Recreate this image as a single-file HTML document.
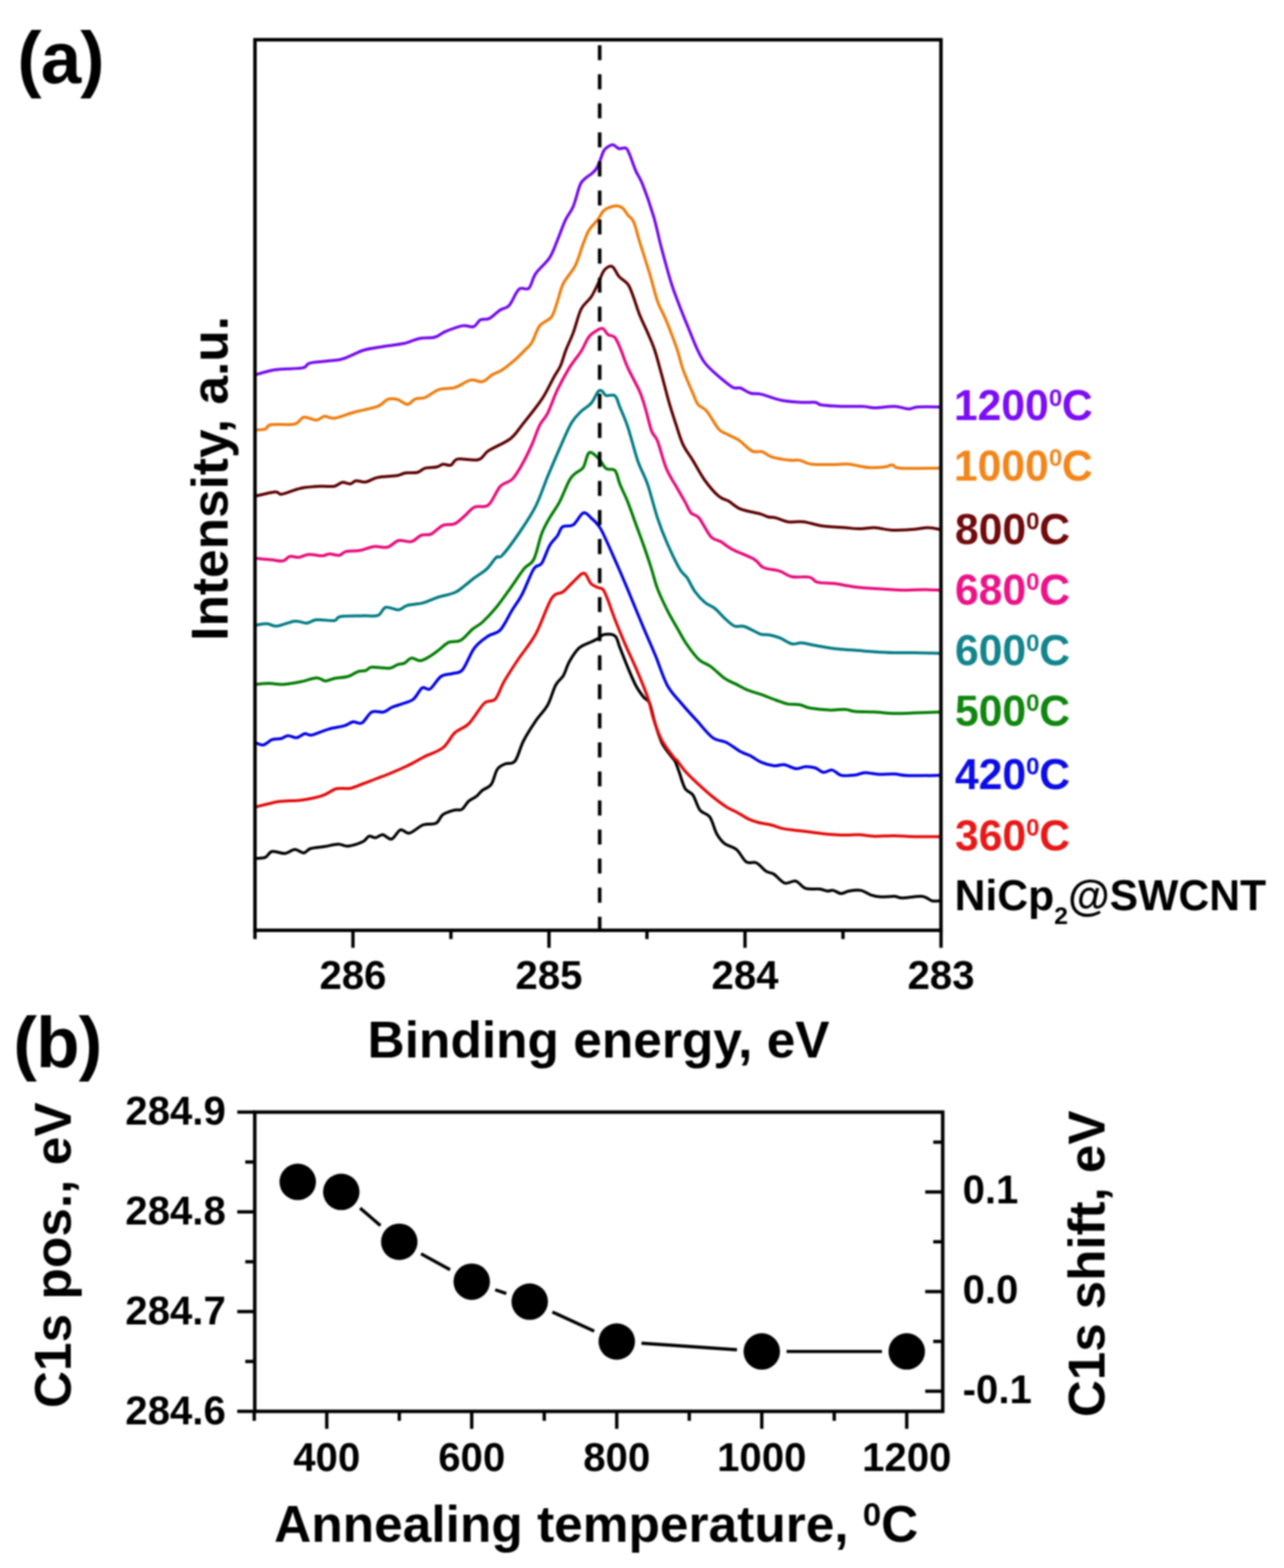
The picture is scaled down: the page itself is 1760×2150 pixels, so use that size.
<!DOCTYPE html>
<html lang="en"><head><meta charset="utf-8"><title>C1s XPS spectra of NiCp2@SWCNT</title>
<style>
html,body{margin:0;padding:0;background:#fff;}
body{width:1760px;height:2150px;overflow:hidden;}
svg{display:block;position:absolute;left:0;top:0;}
svg{filter:blur(0.9px);}
text{font-family:'Liberation Sans', sans-serif;font-weight:bold;fill:#000;}
.tk{font-size:55px;text-anchor:middle;}
.ax{font-size:70.5px;}
.pl{font-size:100px;letter-spacing:-1.3px;}
.lb{font-size:58.5px;}
.sup{font-size:33px;}
.ln{fill:none;stroke:#000;stroke-linecap:butt;}
.cv{fill:none;stroke-linejoin:round;stroke-linecap:butt;}
</style></head><body>
<svg width="1760" height="2150" viewBox="0 0 1760 2150">
<rect x="0" y="0" width="1760" height="2150" fill="#ffffff"/>
<g id="fig">
<g id="panel-a">
<text class="pl" x="23.8" y="113.7">(a)</text>
<clipPath id="clipa"><rect x="349.5" y="54.5" width="940.3" height="1221.1"/></clipPath>
<g clip-path="url(#clipa)">
<path class="cv" d="M350.0,1177.0 C352.2,1176.8 359.7,1177.3 363.5,1175.7 C367.3,1174.1 368.5,1168.4 373.0,1167.5 C377.5,1166.6 385.4,1170.7 390.6,1170.2 C395.8,1169.8 399.8,1164.9 404.1,1164.8 C408.4,1164.7 412.7,1169.6 416.3,1169.4 C419.9,1169.2 421.1,1164.9 425.8,1163.5 C430.5,1162.1 438.4,1161.8 444.7,1160.8 C451.0,1159.8 458.3,1157.6 463.7,1157.5 C469.1,1157.4 471.6,1160.8 477.2,1160.2 C482.8,1159.6 492.8,1156.2 497.5,1154.0 C502.2,1151.8 502.8,1147.6 505.7,1146.7 C508.6,1145.8 512.0,1149.0 515.1,1148.6 C518.2,1148.2 521.0,1144.2 524.6,1144.5 C528.2,1144.8 532.7,1151.6 536.8,1150.5 C540.9,1149.4 544.9,1139.1 549.0,1137.8 C553.1,1136.5 556.0,1143.5 561.2,1142.4 C566.4,1141.3 574.0,1133.3 580.1,1131.0 C586.2,1128.7 593.2,1131.1 597.7,1128.8 C602.2,1126.5 602.9,1119.9 607.2,1116.9 C611.5,1113.9 619.1,1111.9 623.4,1110.7 C627.7,1109.5 629.7,1111.9 632.9,1109.9 C636.1,1107.9 639.0,1101.5 642.4,1098.5 C645.8,1095.5 650.1,1094.2 653.2,1091.7 C656.4,1089.2 657.9,1086.3 661.3,1083.6 C664.7,1080.9 670.1,1080.1 673.5,1075.3 C676.9,1070.5 678.5,1059.6 681.6,1055.0 C684.8,1050.4 688.3,1049.4 692.4,1047.5 C696.5,1045.6 701.8,1048.8 706.0,1043.5 C710.2,1038.2 712.8,1025.2 717.5,1016.0 C722.2,1006.8 728.9,996.6 734.4,988.4 C739.9,980.2 746.2,974.9 750.7,966.8 C755.2,958.7 757.9,946.5 761.5,939.7 C765.1,932.9 769.1,931.6 772.3,926.2 C775.4,920.8 776.8,913.5 780.4,907.2 C784.0,900.9 789.0,892.8 794.0,888.3 C799.0,883.8 805.9,882.3 810.2,880.2 C814.5,878.1 817.0,877.2 820.0,875.5 C823.0,873.8 824.3,870.7 828.1,870.1 C831.9,869.5 839.4,869.0 843.0,872.0 C846.6,875.0 846.9,881.1 849.8,888.3 C852.7,895.5 857.0,906.8 860.6,915.4 C864.2,924.0 867.8,932.9 871.4,939.7 C875.0,946.5 879.1,951.9 882.3,956.0 C885.5,960.1 887.7,957.8 890.4,964.1 C893.1,970.4 895.6,984.8 898.5,993.9 C901.4,1003.0 903.9,1011.8 907.5,1019.0 C911.1,1026.2 917.2,1033.0 920.2,1037.2 C923.2,1041.4 923.8,1040.8 925.6,1044.4 C927.4,1048.0 928.8,1052.7 931.0,1058.8 C933.2,1064.9 936.0,1075.9 939.1,1081.2 C942.2,1086.5 946.5,1085.5 949.9,1090.4 C953.3,1095.3 955.6,1105.7 959.4,1110.7 C963.2,1115.7 969.1,1114.8 972.9,1120.2 C976.7,1125.6 979.0,1137.1 982.4,1143.2 C985.8,1149.3 988.8,1153.1 993.3,1156.7 C997.8,1160.3 1004.5,1160.6 1009.5,1164.8 C1014.5,1169.0 1018.5,1178.9 1023.0,1181.9 C1027.5,1184.9 1032.1,1180.9 1036.6,1183.0 C1041.1,1185.1 1046.0,1192.0 1050.1,1194.6 C1054.1,1197.2 1056.6,1196.0 1060.9,1198.7 C1065.2,1201.4 1070.8,1209.3 1075.8,1210.9 C1080.8,1212.5 1086.0,1206.9 1090.7,1208.1 C1095.4,1209.3 1098.8,1216.4 1104.2,1218.2 C1109.6,1220.0 1118.2,1218.4 1123.2,1219.0 C1128.2,1219.6 1130.8,1221.4 1134.0,1221.7 C1137.2,1222.0 1138.9,1220.3 1142.1,1220.9 C1145.3,1221.5 1149.4,1225.1 1153.0,1225.2 C1156.6,1225.3 1159.3,1222.4 1163.8,1221.7 C1168.3,1221.0 1175.0,1220.0 1180.0,1220.9 C1185.0,1221.8 1189.1,1225.6 1193.6,1227.1 C1198.1,1228.6 1201.7,1229.5 1207.1,1229.8 C1212.5,1230.1 1221.0,1228.8 1226.0,1229.0 C1231.0,1229.2 1230.6,1231.2 1236.9,1231.2 C1243.2,1231.2 1257.1,1228.3 1263.9,1229.0 C1270.7,1229.7 1273.2,1234.2 1277.5,1235.2 C1281.8,1236.2 1287.9,1235.2 1290.0,1235.2" stroke="#000000" stroke-width="4.0"/>
<path class="cv" d="M350.0,1106.6 C355.4,1105.3 372.1,1100.6 382.5,1099.0 C392.9,1097.4 402.4,1098.5 412.3,1097.2 C422.2,1095.9 433.9,1093.5 442.0,1090.9 C450.1,1088.3 454.7,1083.2 461.0,1081.5 C467.3,1079.8 473.7,1082.2 479.9,1081.0 C486.1,1079.8 491.7,1076.8 498.0,1074.5 C504.3,1072.2 512.3,1069.1 517.8,1067.0 C523.3,1064.9 524.2,1064.8 531.0,1062.0 C537.8,1059.2 550.1,1054.0 558.4,1050.0 C566.7,1046.0 572.9,1042.1 581.0,1038.0 C589.1,1033.9 600.1,1030.8 607.2,1025.2 C614.3,1019.7 617.5,1010.2 623.4,1004.7 C629.3,999.2 635.6,999.3 642.4,992.5 C649.2,985.7 657.9,969.7 664.0,964.1 C670.1,958.5 674.4,963.7 678.9,958.7 C683.4,953.7 685.9,943.3 691.1,934.3 C696.3,925.3 702.8,915.3 710.0,904.5 C717.2,893.7 726.7,883.3 734.4,869.3 C742.1,855.3 749.8,830.3 756.1,820.6 C762.4,810.9 766.9,815.4 772.3,811.1 C777.7,806.8 783.9,799.1 788.6,794.9 C793.3,790.7 797.1,785.1 800.7,786.0 C804.3,786.9 807.0,797.0 810.2,800.3 C813.4,803.6 817.2,804.4 820.0,805.7 C822.8,807.1 824.5,805.5 826.8,808.4 C829.0,811.3 830.6,815.8 833.5,823.3 C836.4,830.8 840.3,842.7 844.4,853.1 C848.5,863.5 853.4,875.2 857.9,885.6 C862.4,896.0 866.4,903.7 871.4,915.4 C876.4,927.1 883.6,944.3 887.7,956.0 C891.8,967.7 892.6,976.0 895.8,985.7 C898.9,995.4 902.1,1005.3 906.6,1014.0 C911.1,1022.7 919.4,1033.2 923.0,1038.0 C926.6,1042.8 925.5,1039.6 928.3,1043.0 C931.1,1046.4 934.6,1052.4 940.0,1058.3 C945.4,1064.2 954.6,1072.8 960.8,1078.5 C967.0,1084.2 971.1,1087.9 977.0,1092.6 C982.9,1097.3 990.6,1103.1 996.0,1106.6 C1001.4,1110.1 1004.5,1110.7 1009.5,1113.4 C1014.5,1116.1 1020.7,1120.5 1025.7,1122.9 C1030.7,1125.3 1033.9,1126.3 1039.3,1127.7 C1044.7,1129.1 1052.3,1130.0 1058.2,1131.5 C1064.1,1133.0 1067.3,1135.0 1074.5,1136.4 C1081.7,1137.8 1092.5,1138.6 1101.5,1139.7 C1110.5,1140.8 1119.1,1142.3 1128.6,1143.2 C1138.1,1144.1 1150.3,1144.9 1158.4,1145.1 C1166.5,1145.3 1170.5,1144.2 1177.3,1144.5 C1184.1,1144.8 1190.9,1146.5 1199.0,1146.7 C1207.1,1146.9 1217.0,1145.8 1226.0,1145.9 C1235.0,1146.0 1242.4,1147.0 1253.1,1147.2 C1263.8,1147.4 1283.8,1147.2 1290.0,1147.2" stroke="#e40808" stroke-width="4.0"/>
<path class="cv" d="M350.0,1018.2 C351.8,1018.8 357.0,1022.2 360.8,1021.5 C364.6,1020.8 368.9,1015.7 373.0,1014.2 C377.1,1012.8 381.6,1013.7 385.2,1012.8 C388.8,1011.9 391.1,1008.9 394.7,1008.7 C398.3,1008.5 403.0,1012.0 406.8,1011.5 C410.6,1011.0 414.3,1006.6 417.7,1006.0 C421.1,1005.4 421.8,1008.9 427.2,1007.9 C432.6,1006.9 442.8,1001.9 450.2,999.8 C457.6,997.7 466.2,996.9 471.8,995.2 C477.4,993.5 479.9,990.5 484.0,989.8 C488.1,989.1 491.9,993.5 496.2,991.2 C500.5,989.0 504.7,978.8 509.7,976.3 C514.7,973.8 521.5,977.3 526.0,976.3 C530.5,975.2 532.8,971.8 536.8,970.0 C540.8,968.2 545.3,967.3 550.3,965.4 C555.3,963.5 561.9,962.4 566.6,958.7 C571.3,955.0 574.9,945.6 578.7,943.2 C582.5,940.9 585.3,947.2 589.6,944.6 C593.9,942.0 599.3,931.0 604.5,927.5 C609.7,924.0 615.8,925.1 620.7,923.5 C625.7,921.9 629.2,924.0 634.2,918.1 C639.2,912.2 644.6,896.0 650.5,888.3 C656.4,880.6 663.5,876.1 669.4,872.0 C675.3,867.9 680.3,869.8 685.7,863.9 C691.1,858.0 696.9,844.9 701.9,836.8 C706.9,828.7 710.5,824.7 715.5,815.2 C720.5,805.7 727.2,787.1 731.7,780.0 C736.2,772.9 738.9,777.7 742.5,772.4 C746.1,767.1 749.8,754.3 753.4,748.0 C757.0,741.7 761.3,738.8 764.2,734.5 C767.1,730.2 767.4,724.8 771.0,722.3 C774.6,719.8 781.1,722.8 785.8,719.6 C790.5,716.4 795.3,704.9 799.4,703.3 C803.5,701.7 806.8,707.3 810.2,710.1 C813.6,712.9 817.0,716.1 820.0,720.2 C823.0,724.3 823.4,724.5 828.1,734.5 C832.8,744.5 842.5,766.5 848.4,780.0 C854.3,793.5 857.6,801.7 863.3,815.2 C868.9,828.7 876.4,847.2 882.3,861.2 C888.2,875.2 893.1,886.0 898.5,899.1 C903.9,912.2 908.8,928.9 914.7,939.7 C920.6,950.5 926.9,956.0 933.7,964.1 C940.5,972.2 948.2,980.5 955.4,988.4 C962.6,996.3 970.2,1006.5 977.0,1011.5 C983.8,1016.5 989.7,1015.0 996.0,1018.2 C1002.3,1021.4 1009.5,1027.6 1014.9,1030.6 C1020.3,1033.6 1023.7,1033.9 1028.4,1036.3 C1033.2,1038.7 1038.0,1042.8 1043.4,1045.1 C1048.8,1047.4 1055.6,1049.4 1060.9,1050.0 C1066.2,1050.6 1070.0,1047.8 1075.0,1048.5 C1080.0,1049.2 1085.8,1053.5 1090.7,1053.9 C1095.6,1054.4 1099.7,1051.4 1104.2,1051.2 C1108.7,1051.0 1113.7,1051.7 1117.8,1053.0 C1121.9,1054.3 1124.8,1058.5 1128.6,1059.0 C1132.4,1059.5 1136.7,1055.2 1140.8,1055.9 C1144.9,1056.6 1147.8,1061.9 1153.0,1063.1 C1158.2,1064.2 1166.5,1063.4 1171.9,1062.8 C1177.3,1062.2 1180.1,1059.7 1185.5,1059.5 C1190.9,1059.3 1197.7,1061.5 1204.4,1061.8 C1211.2,1062.1 1219.2,1061.0 1226.0,1061.3 C1232.8,1061.6 1234.3,1063.2 1245.0,1063.5 C1255.7,1063.8 1282.5,1063.2 1290.0,1063.1" stroke="#0000e6" stroke-width="4.0"/>
<path class="cv" d="M350.0,938.4 C353.2,938.2 362.7,937.0 369.0,937.0 C375.3,937.0 380.7,938.8 387.9,938.4 C395.1,938.0 404.6,936.3 412.3,934.8 C420.0,933.3 428.3,929.6 433.9,929.4 C439.5,929.2 442.0,933.7 446.1,933.8 C450.2,933.9 453.1,931.2 458.3,930.2 C463.5,929.2 471.8,929.1 477.2,927.5 C482.6,925.9 486.7,922.1 490.8,920.8 C494.9,919.4 498.5,920.4 501.6,919.4 C504.8,918.4 504.3,915.3 509.7,914.8 C515.1,914.3 528.2,916.8 534.1,916.2 C540.0,915.6 541.5,912.4 544.9,911.3 C548.3,910.2 551.2,910.9 554.4,909.4 C557.6,907.9 560.3,903.0 563.9,902.4 C567.5,901.8 572.0,906.2 576.0,905.9 C580.0,905.6 583.9,903.0 588.2,900.5 C592.5,898.0 597.3,894.3 601.8,891.0 C606.3,887.7 610.3,882.9 615.3,880.7 C620.2,878.5 626.1,881.0 631.5,878.0 C636.9,875.0 642.8,866.8 647.8,862.6 C652.8,858.5 655.9,858.1 661.3,853.1 C666.7,848.1 674.0,840.5 680.3,832.8 C686.6,825.1 692.9,815.9 699.2,807.1 C705.5,798.3 712.8,786.7 718.2,780.0 C723.6,773.3 727.7,775.0 731.7,767.0 C735.8,759.0 738.9,741.3 742.5,731.8 C746.1,722.3 749.3,717.3 753.4,710.1 C757.5,702.9 762.4,697.0 766.9,688.4 C771.4,679.8 776.8,665.2 780.4,658.7 C784.0,652.2 785.3,652.1 788.5,649.2 C791.7,646.3 796.2,645.8 799.4,641.1 C802.6,636.4 804.1,623.0 807.5,620.8 C810.9,618.6 816.1,624.4 820.0,628.0 C823.9,631.6 827.0,639.5 830.8,642.4 C834.6,645.2 839.8,641.5 843.0,645.1 C846.2,648.7 846.9,656.9 849.8,664.1 C852.7,671.3 857.0,679.4 860.6,688.4 C864.2,697.4 867.8,708.3 871.4,718.2 C875.0,728.1 878.7,737.7 882.3,748.0 C885.9,758.3 889.9,770.1 893.0,780.0 C896.1,789.9 897.6,797.6 901.2,807.1 C904.8,816.6 910.2,827.8 914.7,836.8 C919.2,845.8 923.8,853.3 928.3,861.2 C932.8,869.1 936.8,877.0 941.8,884.2 C946.8,891.4 952.7,899.5 958.1,904.5 C963.5,909.5 968.4,909.7 974.3,914.0 C980.2,918.3 987.4,926.1 993.3,930.2 C999.2,934.3 1004.1,935.7 1009.5,938.4 C1014.9,941.1 1019.8,944.1 1025.7,946.5 C1031.6,948.9 1038.4,950.5 1044.7,952.7 C1051.0,955.0 1057.7,957.9 1063.6,960.0 C1069.5,962.1 1074.5,964.4 1079.9,965.4 C1085.3,966.4 1091.1,965.3 1096.1,966.2 C1101.1,967.1 1102.9,969.6 1109.7,970.8 C1116.5,972.0 1128.6,973.3 1136.7,973.6 C1144.8,973.9 1152.5,972.4 1158.4,972.7 C1164.3,973.0 1165.1,974.9 1171.9,975.5 C1178.7,976.1 1190.0,975.8 1199.0,976.3 C1208.0,976.8 1217.0,978.0 1226.0,978.2 C1235.0,978.4 1242.4,977.9 1253.1,977.6 C1263.8,977.3 1283.8,976.5 1290.0,976.3" stroke="#007c00" stroke-width="4.0"/>
<path class="cv" d="M350.0,857.2 C352.7,856.9 361.2,855.1 366.2,855.3 C371.2,855.5 373.5,859.1 379.8,858.5 C386.1,857.9 397.3,852.4 404.1,851.7 C410.9,851.0 415.4,854.7 420.4,854.4 C425.4,854.1 427.6,850.4 433.9,849.8 C440.2,849.2 452.9,851.6 458.3,850.9 C463.7,850.2 460.1,846.6 466.4,845.5 C472.7,844.4 487.6,844.7 496.2,844.4 C504.8,844.1 512.4,845.8 517.8,843.9 C523.2,842.0 524.0,834.1 528.7,832.8 C533.5,831.5 541.3,836.8 546.3,836.3 C551.2,835.8 552.8,831.7 558.4,830.1 C564.0,828.5 573.3,828.4 580.1,826.6 C586.9,824.8 591.8,821.6 599.0,819.3 C606.2,816.9 617.1,815.2 623.4,812.5 C629.7,809.8 632.5,806.4 637.0,803.0 C641.5,799.6 645.4,796.0 650.5,792.2 C655.6,788.4 662.4,784.7 667.4,780.0 C672.4,775.3 676.8,767.3 680.3,764.2 C683.8,761.1 683.0,767.4 688.4,761.5 C693.8,755.6 705.1,740.3 712.8,729.0 C720.5,717.7 728.1,706.5 734.4,693.9 C740.7,681.3 745.3,666.4 750.7,653.3 C756.1,640.2 761.5,627.6 766.9,615.4 C772.3,603.2 778.1,588.8 783.1,580.2 C788.1,571.6 792.2,568.4 796.7,563.9 C801.2,559.4 806.3,557.6 810.2,553.1 C814.1,548.6 817.5,539.6 820.0,536.8 C822.5,534.0 823.6,535.4 825.4,536.3 C827.2,537.2 827.9,541.2 830.8,542.3 C833.7,543.4 839.8,540.1 843.0,542.8 C846.2,545.5 846.9,551.4 849.8,558.5 C852.7,565.6 856.5,573.4 860.6,585.6 C864.7,597.8 869.6,618.5 874.1,631.6 C878.6,644.7 883.2,651.0 887.7,664.1 C892.2,677.2 896.7,696.6 901.2,710.1 C905.7,723.6 909.6,733.6 914.7,745.3 C919.8,756.9 927.1,772.2 931.6,780.0 C936.1,787.8 938.3,787.0 941.8,792.2 C945.3,797.4 948.5,805.5 952.6,811.1 C956.7,816.7 961.7,822.2 966.2,826.0 C970.7,829.8 975.2,830.5 979.7,834.1 C984.2,837.7 988.8,843.6 993.3,847.7 C997.8,851.8 1002.3,856.6 1006.8,858.5 C1011.3,860.4 1014.4,857.2 1020.3,859.0 C1026.2,860.8 1036.1,867.3 1042.0,869.3 C1047.9,871.2 1051.0,869.8 1055.5,870.7 C1060.0,871.6 1064.0,872.7 1069.0,874.7 C1074.0,876.7 1080.3,881.8 1085.3,882.9 C1090.3,884.0 1093.4,881.1 1098.8,881.5 C1104.2,881.9 1110.1,883.6 1117.8,885.0 C1125.5,886.4 1135.9,888.5 1144.9,889.6 C1153.9,890.7 1162.9,890.8 1171.9,891.5 C1180.9,892.2 1190.0,893.1 1199.0,893.7 C1208.0,894.3 1217.0,894.8 1226.0,895.0 C1235.0,895.2 1242.4,894.9 1253.1,895.0 C1263.8,895.1 1283.8,895.8 1290.0,895.9" stroke="#007a82" stroke-width="4.0"/>
<path class="cv" d="M350.0,765.6 C353.6,765.9 365.4,766.9 371.7,767.5 C378.0,768.1 383.6,769.9 387.9,769.1 C392.2,768.3 393.8,763.7 397.4,762.9 C401.0,762.1 405.3,764.7 409.6,764.2 C413.9,763.8 417.7,760.6 423.1,760.2 C428.5,759.9 437.3,762.2 442.0,762.1 C446.7,762.0 447.7,759.5 451.5,759.4 C455.3,759.3 461.2,762.0 465.0,761.5 C468.8,761.0 469.8,757.2 474.5,756.1 C479.2,755.0 487.2,755.9 493.5,754.8 C499.8,753.7 506.1,750.2 512.4,749.4 C518.7,748.6 525.8,751.6 531.4,750.2 C537.0,748.8 540.9,742.5 546.3,741.2 C551.7,739.9 558.7,743.8 563.9,742.6 C569.1,741.4 572.9,735.6 577.4,733.9 C581.9,732.2 585.9,734.5 590.9,732.3 C595.9,730.0 601.8,722.8 607.2,720.4 C612.6,718.0 618.4,720.4 623.4,718.2 C628.4,716.0 632.5,711.2 637.0,707.4 C641.5,703.6 645.1,697.7 650.5,695.2 C655.9,692.7 663.5,697.2 669.4,692.5 C675.3,687.8 680.3,672.7 685.7,666.8 C691.1,660.9 696.9,662.3 701.9,657.3 C706.9,652.3 711.0,644.9 715.5,637.0 C720.0,629.1 725.0,618.9 729.0,609.9 C733.0,600.9 736.2,590.1 739.8,582.9 C743.4,575.7 746.6,574.7 750.7,566.6 C754.8,558.5 759.2,544.5 764.2,534.1 C769.2,523.7 775.0,513.2 780.4,504.4 C785.8,495.6 792.2,488.6 796.7,481.5 C801.2,474.4 803.6,466.4 807.5,461.5 C811.4,456.6 816.8,453.8 820.0,452.0 C823.2,450.2 824.5,449.6 826.8,450.7 C829.0,451.8 830.8,456.8 833.5,458.8 C836.2,460.8 840.1,459.4 843.0,462.9 C845.9,466.3 848.1,472.6 851.0,479.5 C853.9,486.4 856.3,494.8 860.6,504.4 C864.9,513.9 872.7,527.3 876.8,536.8 C880.9,546.3 882.3,552.2 885.0,561.2 C887.7,570.2 890.4,583.8 893.1,591.0 C895.8,598.2 897.8,595.9 901.2,604.5 C904.6,613.1 908.9,631.6 913.4,642.4 C917.9,653.2 924.0,661.8 928.3,669.5 C932.6,677.2 936.0,682.8 939.1,688.4 C942.2,694.0 944.0,699.7 947.2,703.3 C950.4,706.9 953.6,704.7 958.1,710.1 C962.6,715.5 969.3,730.4 974.3,735.8 C979.2,741.2 982.8,739.7 987.8,742.6 C992.8,745.5 996.4,749.4 1004.1,753.4 C1011.8,757.4 1026.9,762.8 1033.9,766.9 C1040.9,771.0 1040.2,775.3 1046.0,778.0 C1051.8,780.7 1062.5,781.1 1069.0,783.2 C1075.5,785.3 1078.5,789.4 1085.3,790.8 C1092.1,792.2 1103.8,790.1 1109.7,791.4 C1115.6,792.7 1114.6,796.9 1120.5,798.4 C1126.4,799.9 1136.8,799.3 1144.9,800.3 C1153.0,801.3 1160.2,803.3 1169.2,804.4 C1178.2,805.5 1187.3,806.3 1199.0,807.1 C1210.7,807.9 1228.3,809.0 1239.6,809.2 C1250.9,809.4 1258.3,808.4 1266.7,808.4 C1275.1,808.4 1286.1,809.1 1290.0,809.2" stroke="#e80878" stroke-width="4.0"/>
<path class="cv" d="M350.0,680.3 C354.5,679.3 370.9,674.8 377.0,674.4 C383.1,674.0 380.6,678.4 386.5,677.6 C392.4,676.8 403.5,671.3 412.3,669.5 C421.1,667.7 431.6,667.2 439.3,666.8 C447.0,666.3 453.3,667.7 458.3,666.8 C463.3,665.9 465.5,661.9 469.1,661.4 C472.7,660.9 476.7,663.9 479.9,663.5 C483.1,663.1 484.5,659.7 488.1,659.2 C491.7,658.8 496.7,661.6 501.6,660.8 C506.6,660.0 510.6,656.1 517.8,654.6 C525.0,653.1 538.6,652.9 544.9,651.9 C551.2,650.9 551.2,649.1 555.7,648.4 C560.2,647.7 567.5,648.9 572.0,647.8 C576.5,646.7 578.3,643.1 582.8,641.9 C587.3,640.6 594.9,641.2 599.0,640.3 C603.1,639.4 604.0,636.9 607.2,636.5 C610.4,636.1 614.6,639.0 618.0,637.8 C621.4,636.6 621.2,630.7 627.5,629.4 C633.8,628.1 648.9,632.1 655.9,630.2 C662.9,628.3 662.2,622.8 669.4,618.1 C676.6,613.4 691.5,607.7 699.2,601.8 C706.9,595.9 708.3,591.9 715.5,582.9 C722.7,573.9 735.3,558.5 742.5,547.7 C749.7,536.9 754.5,525.6 758.8,517.9 C763.1,510.2 765.4,508.0 768.2,501.7 C771.0,495.4 772.8,487.6 775.7,480.0 C778.6,472.4 782.3,465.5 785.8,456.1 C789.3,446.7 792.6,431.7 796.7,423.6 C800.8,415.5 806.3,413.3 810.2,407.4 C814.1,401.5 817.0,394.5 820.0,388.4 C823.0,382.3 824.9,374.6 828.1,370.8 C831.3,367.0 835.6,364.0 839.0,365.4 C842.4,366.8 844.8,374.9 848.4,379.0 C852.0,383.1 857.4,385.5 860.6,389.8 C863.8,394.1 864.7,397.7 867.4,404.7 C870.1,411.7 873.4,423.2 876.8,431.8 C880.2,440.4 884.3,448.2 887.7,456.1 C891.1,464.1 894.1,470.1 897.2,479.5 C900.4,488.9 903.2,500.2 906.6,512.5 C910.0,524.8 914.1,541.4 917.5,553.1 C920.9,564.8 923.8,573.4 926.9,582.9 C930.0,592.4 932.6,601.8 936.4,609.9 C940.2,618.0 944.9,623.5 949.9,631.6 C954.9,639.7 960.3,650.6 966.2,658.7 C972.1,666.8 979.7,675.6 985.1,680.3 C990.5,685.0 993.7,684.2 998.7,687.1 C1003.7,690.0 1007.7,695.0 1014.9,697.9 C1022.1,700.8 1035.7,702.9 1042.0,704.7 C1048.3,706.5 1049.2,707.9 1052.8,708.8 C1056.4,709.7 1059.1,709.0 1063.6,710.1 C1068.1,711.2 1073.6,714.6 1079.9,715.5 C1086.2,716.4 1093.8,714.6 1101.5,715.5 C1109.2,716.4 1116.4,719.5 1125.9,720.9 C1135.4,722.2 1149.4,722.9 1158.4,723.6 C1167.4,724.3 1173.2,725.0 1180.0,725.0 C1186.8,725.0 1191.8,723.3 1199.0,723.6 C1206.2,723.9 1214.4,726.5 1223.4,726.9 C1232.4,727.3 1245.0,726.3 1253.1,725.8 C1261.2,725.2 1265.9,723.5 1272.1,723.6 C1278.2,723.7 1287.0,725.8 1290.0,726.3" stroke="#5c0000" stroke-width="4.0"/>
<path class="cv" d="M350.0,589.6 C352.2,589.4 359.9,589.5 363.5,588.3 C367.1,587.1 364.9,583.4 371.7,582.3 C378.4,581.2 396.6,583.2 404.0,581.5 C411.4,579.8 411.3,572.9 416.3,572.0 C421.3,571.1 429.2,576.3 433.9,576.1 C438.6,575.9 440.6,571.2 444.7,570.7 C448.8,570.2 451.5,574.3 458.3,573.4 C465.1,572.5 475.5,568.0 485.4,565.3 C495.3,562.6 510.1,560.1 517.8,557.2 C525.5,554.3 526.9,549.3 531.4,547.7 C535.9,546.1 540.4,546.6 544.9,547.7 C549.4,548.8 554.3,554.5 558.4,554.4 C562.5,554.3 565.2,548.7 569.3,547.1 C573.4,545.5 577.4,547.2 582.8,545.0 C588.2,542.8 595.0,536.4 601.8,534.1 C608.6,531.8 616.2,533.6 623.4,531.4 C630.6,529.2 638.8,522.5 645.1,521.1 C651.4,519.8 656.3,524.5 661.3,523.3 C666.3,522.1 670.4,516.5 674.9,513.8 C679.4,511.1 683.0,510.7 688.4,507.1 C693.8,503.5 702.1,496.7 707.3,492.2 C712.5,487.7 715.9,483.8 719.5,480.0 C723.1,476.2 725.6,475.2 729.0,469.7 C732.4,464.1 735.3,452.6 739.8,446.7 C744.3,440.8 751.9,440.1 756.0,434.5 C760.1,428.9 761.5,420.5 764.2,412.8 C766.9,405.1 768.2,396.5 772.3,388.4 C776.4,380.3 784.1,373.1 788.6,364.1 C793.1,355.1 796.2,342.4 799.4,334.3 C802.5,326.2 804.1,321.0 807.5,315.4 C810.9,309.8 816.6,305.0 820.0,300.5 C823.4,296.0 824.0,291.3 828.1,288.3 C832.2,285.3 840.1,282.8 844.4,282.3 C848.7,281.9 851.1,283.5 853.8,285.6 C856.5,287.7 858.1,291.9 860.6,295.0 C863.1,298.1 866.0,298.4 868.7,304.5 C871.4,310.6 873.2,319.9 876.8,331.6 C880.4,343.3 886.3,361.4 890.4,374.9 C894.5,388.4 897.4,402.0 901.2,412.8 C905.0,423.6 908.9,428.8 913.4,439.9 C917.9,451.0 924.5,468.3 928.3,479.5 C932.1,490.7 932.8,497.1 936.4,507.1 C940.0,517.1 946.5,531.7 949.9,539.6 C953.3,547.5 953.5,550.4 956.7,554.4 C959.9,558.4 964.2,558.2 968.9,563.9 C973.6,569.5 980.6,583.1 985.1,588.3 C989.6,593.5 991.5,592.6 996.0,595.1 C1000.5,597.6 1006.3,599.3 1012.2,603.2 C1018.1,607.1 1025.8,615.9 1031.2,618.6 C1036.6,621.3 1040.2,618.0 1044.7,619.4 C1049.2,620.8 1051.9,624.8 1058.2,626.7 C1064.5,628.7 1076.3,630.4 1082.6,631.1 C1088.9,631.8 1091.1,630.2 1096.1,631.1 C1101.1,632.0 1104.3,635.5 1112.4,636.5 C1120.5,637.5 1136.3,637.0 1144.9,637.0 C1153.5,637.0 1156.1,635.8 1163.8,636.5 C1171.5,637.2 1182.8,640.5 1190.9,641.1 C1199.0,641.7 1207.1,640.9 1212.5,640.3 C1217.9,639.7 1219.8,637.3 1223.4,637.6 C1227.0,637.9 1223.1,641.2 1234.2,641.9 C1245.3,642.6 1280.7,641.9 1290.0,641.9" stroke="#ee7c0c" stroke-width="4.0"/>
<path class="cv" d="M350.0,513.8 C354.5,512.7 366.2,508.6 377.0,507.0 C387.8,505.4 406.9,506.0 415.0,504.4 C423.1,502.8 417.2,499.5 425.8,497.6 C434.4,495.7 456.9,494.8 466.4,493.0 C475.9,491.2 477.2,489.0 482.6,486.8 C488.0,484.6 491.8,482.0 499.0,480.0 C506.2,478.0 517.0,476.5 526.0,475.0 C535.0,473.5 544.9,472.8 553.0,471.0 C561.1,469.2 567.5,465.6 574.7,464.2 C581.9,462.8 590.4,463.9 596.3,462.3 C602.2,460.7 603.6,457.4 609.9,454.8 C616.2,452.2 627.7,447.7 634.2,446.6 C640.7,445.5 645.0,449.4 649.1,448.0 C653.2,446.6 655.0,440.4 658.6,438.5 C662.2,436.6 666.3,438.9 670.8,436.6 C675.3,434.4 681.2,428.0 685.7,425.0 C690.2,422.0 693.6,423.5 697.9,418.8 C702.2,414.1 706.9,400.5 711.4,396.6 C715.9,392.7 721.1,398.8 724.9,395.2 C728.7,391.6 729.6,381.9 734.4,374.9 C739.1,367.9 748.4,361.0 753.4,353.3 C758.4,345.6 760.6,337.5 764.2,328.9 C767.8,320.3 771.4,309.5 775.0,301.8 C778.6,294.1 782.4,291.0 785.8,282.9 C789.2,274.8 792.4,259.6 795.3,253.1 C798.2,246.6 800.5,246.4 803.0,244.0 C805.5,241.6 808.2,240.5 810.5,238.5 C812.8,236.5 815.2,234.6 817.0,232.0 C818.8,229.4 819.8,227.2 821.5,223.0 C823.2,218.8 825.6,210.6 827.5,207.0 C829.4,203.4 830.9,202.9 833.0,201.5 C835.1,200.1 837.7,198.2 840.3,198.6 C842.9,199.0 845.5,203.1 848.4,203.8 C851.3,204.5 855.4,201.6 857.9,203.0 C860.4,204.4 861.0,207.3 863.3,212.5 C865.5,217.7 868.5,227.3 871.4,234.1 C874.3,240.9 876.8,242.7 880.9,253.1 C885.0,263.5 891.5,282.0 895.8,296.4 C900.1,310.8 902.5,324.4 906.6,339.7 C910.7,355.0 916.1,375.3 920.2,388.4 C924.3,401.5 927.4,408.7 931.0,418.2 C934.6,427.7 937.6,435.1 941.8,445.3 C946.0,455.5 951.9,470.8 956.0,479.5 C960.1,488.2 961.8,491.9 966.2,497.6 C970.6,503.3 976.1,508.2 982.4,513.8 C988.7,519.3 998.7,527.9 1004.1,530.9 C1009.5,533.9 1010.8,530.6 1014.9,532.0 C1019.0,533.4 1023.4,537.5 1028.4,539.0 C1033.4,540.5 1037.5,539.2 1044.7,540.9 C1051.9,542.6 1062.8,547.2 1071.8,549.0 C1080.8,550.8 1091.1,551.2 1098.8,551.7 C1106.5,552.2 1113.3,551.1 1117.8,551.7 C1122.3,552.3 1120.0,554.4 1125.9,555.3 C1131.8,556.2 1143.5,556.9 1153.0,557.2 C1162.5,557.5 1175.0,556.9 1182.7,557.2 C1190.4,557.6 1191.8,559.3 1199.0,559.3 C1206.2,559.3 1218.3,557.0 1226.0,557.2 C1233.7,557.4 1239.6,560.6 1245.0,560.7 C1250.4,560.8 1251.0,558.5 1258.5,558.0 C1266.0,557.5 1284.8,558.0 1290.0,558.0" stroke="#7208ee" stroke-width="4.0"/>
</g>
<line class="ln" x1="822.0" y1="62" x2="822.0" y2="1275.6" stroke-width="4.9" stroke-dasharray="20.6 19.23"/>
<rect class="ln" x="349.5" y="54.5" width="940.3" height="1221.1" stroke-width="4.8"/>
<line class="ln" x1="349.5" y1="1275.6" x2="349.5" y2="1287.6" stroke-width="4.6"/>
<line class="ln" x1="483.8" y1="1275.6" x2="483.8" y2="1299.6" stroke-width="4.6"/>
<text class="tk" x="483.8" y="1356.4">286</text>
<line class="ln" x1="618.1" y1="1275.6" x2="618.1" y2="1287.6" stroke-width="4.6"/>
<line class="ln" x1="752.5" y1="1275.6" x2="752.5" y2="1299.6" stroke-width="4.6"/>
<text class="tk" x="752.5" y="1356.4">285</text>
<line class="ln" x1="886.8" y1="1275.6" x2="886.8" y2="1287.6" stroke-width="4.6"/>
<line class="ln" x1="1021.2" y1="1275.6" x2="1021.2" y2="1299.6" stroke-width="4.6"/>
<text class="tk" x="1021.2" y="1356.4">284</text>
<line class="ln" x1="1155.5" y1="1275.6" x2="1155.5" y2="1287.6" stroke-width="4.6"/>
<line class="ln" x1="1289.9" y1="1275.6" x2="1289.9" y2="1299.6" stroke-width="4.6"/>
<text class="tk" x="1289.9" y="1356.4">283</text>
<text class="ax" text-anchor="middle" x="820.5" y="1450">Binding energy, eV</text>
<text class="ax" text-anchor="middle" transform="translate(312.4,656) rotate(-90)">Intensity, a.u.</text>
<text class="lb" x="1307.5" y="576.3" style="fill:#7d0cf8">1200<tspan class="sup" dy="-19.5">0</tspan><tspan dy="19.5" dx="-0.5">C</tspan></text>
<text class="lb" x="1307.5" y="658.8" style="fill:#f3861a">1000<tspan class="sup" dy="-19.5">0</tspan><tspan dy="19.5" dx="-0.5">C</tspan></text>
<text class="lb" x="1309.0" y="745.5" style="fill:#700a0c">800<tspan class="sup" dy="-19.5">0</tspan><tspan dy="19.5" dx="-0.5">C</tspan></text>
<text class="lb" x="1309.0" y="828.5" style="fill:#ec1288">680<tspan class="sup" dy="-19.5">0</tspan><tspan dy="19.5" dx="-0.5">C</tspan></text>
<text class="lb" x="1309.0" y="912.2" style="fill:#12848c">600<tspan class="sup" dy="-19.5">0</tspan><tspan dy="19.5" dx="-0.5">C</tspan></text>
<text class="lb" x="1309.0" y="994.8" style="fill:#10860f">500<tspan class="sup" dy="-19.5">0</tspan><tspan dy="19.5" dx="-0.5">C</tspan></text>
<text class="lb" x="1309.0" y="1081.8" style="fill:#0c0ce8">420<tspan class="sup" dy="-19.5">0</tspan><tspan dy="19.5" dx="-0.5">C</tspan></text>
<text class="lb" x="1309.0" y="1165.5" style="fill:#e81818">360<tspan class="sup" dy="-19.5">0</tspan><tspan dy="19.5" dx="-0.5">C</tspan></text>
<text class="lb" style="font-size:58.5px" x="1308.5" y="1248.3">NiCp<tspan style="font-size:34px" dy="18.5">2</tspan><tspan dy="-18.5">@SWCNT</tspan></text>
</g>
<g id="panel-b">
<text class="pl" style="font-size:97.5px" x="18.3" y="1462.6">(b)</text>
<rect class="ln" x="349.2" y="1524.9" width="943.0" height="410.29999999999995" stroke-width="4.8"/>
<line class="ln" x1="325.2" y1="1524.9" x2="349.2" y2="1524.9" stroke-width="4.6"/>
<text class="tk" style="text-anchor:end" x="309.5" y="1542.2">284.9</text>
<line class="ln" x1="336.2" y1="1593.3" x2="349.2" y2="1593.3" stroke-width="4.6"/>
<line class="ln" x1="325.2" y1="1661.7" x2="349.2" y2="1661.7" stroke-width="4.6"/>
<text class="tk" style="text-anchor:end" x="309.5" y="1679.0">284.8</text>
<line class="ln" x1="336.2" y1="1730.1" x2="349.2" y2="1730.1" stroke-width="4.6"/>
<line class="ln" x1="325.2" y1="1798.4" x2="349.2" y2="1798.4" stroke-width="4.6"/>
<text class="tk" style="text-anchor:end" x="309.5" y="1815.7">284.7</text>
<line class="ln" x1="336.2" y1="1866.8" x2="349.2" y2="1866.8" stroke-width="4.6"/>
<line class="ln" x1="325.2" y1="1935.2" x2="349.2" y2="1935.2" stroke-width="4.6"/>
<text class="tk" style="text-anchor:end" x="309.5" y="1952.5">284.6</text>
<line class="ln" x1="1279.2" y1="1566.1" x2="1292.2" y2="1566.1" stroke-width="4.6"/>
<line class="ln" x1="1268.2" y1="1634.4" x2="1292.2" y2="1634.4" stroke-width="4.6"/>
<text class="tk" style="text-anchor:start" x="1319.5" y="1650.4">0.1</text>
<line class="ln" x1="1279.2" y1="1702.7" x2="1292.2" y2="1702.7" stroke-width="4.6"/>
<line class="ln" x1="1268.2" y1="1771.0" x2="1292.2" y2="1771.0" stroke-width="4.6"/>
<text class="tk" style="text-anchor:start" x="1319.5" y="1787.0">0.0</text>
<line class="ln" x1="1279.2" y1="1839.3" x2="1292.2" y2="1839.3" stroke-width="4.6"/>
<line class="ln" x1="1268.2" y1="1907.6" x2="1292.2" y2="1907.6" stroke-width="4.6"/>
<text class="tk" style="text-anchor:start" x="1319.5" y="1923.6">-0.1</text>
<line class="ln" x1="348.5" y1="1935.2" x2="348.5" y2="1948.2" stroke-width="4.6"/>
<line class="ln" x1="447.9" y1="1935.2" x2="447.9" y2="1959.2" stroke-width="4.6"/>
<text class="tk" x="447.9" y="2017.2">400</text>
<line class="ln" x1="547.3" y1="1935.2" x2="547.3" y2="1948.2" stroke-width="4.6"/>
<line class="ln" x1="646.6" y1="1935.2" x2="646.6" y2="1959.2" stroke-width="4.6"/>
<text class="tk" x="646.6" y="2017.2">600</text>
<line class="ln" x1="746.0" y1="1935.2" x2="746.0" y2="1948.2" stroke-width="4.6"/>
<line class="ln" x1="845.4" y1="1935.2" x2="845.4" y2="1959.2" stroke-width="4.6"/>
<text class="tk" x="845.4" y="2017.2">800</text>
<line class="ln" x1="944.8" y1="1935.2" x2="944.8" y2="1948.2" stroke-width="4.6"/>
<line class="ln" x1="1044.2" y1="1935.2" x2="1044.2" y2="1959.2" stroke-width="4.6"/>
<text class="tk" x="1044.2" y="2017.2">1000</text>
<line class="ln" x1="1143.5" y1="1935.2" x2="1143.5" y2="1948.2" stroke-width="4.6"/>
<line class="ln" x1="1242.9" y1="1935.2" x2="1242.9" y2="1959.2" stroke-width="4.6"/>
<text class="tk" x="1242.9" y="2017.2">1200</text>
<line class="ln" x1="493.6" y1="1656.5" x2="521.5" y2="1680.5" stroke-width="4.4"/>
<line class="ln" x1="577.1" y1="1719.1" x2="616.9" y2="1741.0" stroke-width="4.4"/>
<line class="ln" x1="678.8" y1="1768.5" x2="694.0" y2="1773.7" stroke-width="4.4"/>
<line class="ln" x1="757.1" y1="1798.9" x2="814.5" y2="1825.3" stroke-width="4.4"/>
<line class="ln" x1="879.3" y1="1841.8" x2="1010.2" y2="1850.8" stroke-width="4.4"/>
<line class="ln" x1="1078.2" y1="1853.1" x2="1208.9" y2="1853.1" stroke-width="4.4"/>
<circle cx="408.1" cy="1620.6" r="25.0" fill="#000"/>
<circle cx="467.8" cy="1634.3" r="25.0" fill="#000"/>
<circle cx="547.3" cy="1702.7" r="25.0" fill="#000"/>
<circle cx="646.6" cy="1757.4" r="25.0" fill="#000"/>
<circle cx="726.1" cy="1784.8" r="25.0" fill="#000"/>
<circle cx="845.4" cy="1839.5" r="25.0" fill="#000"/>
<circle cx="1044.2" cy="1853.1" r="25.0" fill="#000"/>
<circle cx="1242.9" cy="1853.1" r="25.0" fill="#000"/>
<text class="ax" style="font-size:70.5px" text-anchor="middle" transform="translate(96.6,1721.2) rotate(-90)">C1s pos., eV</text>
<text class="ax" style="font-size:70px" text-anchor="middle" transform="translate(1514.3,1733) rotate(-90)">C1s shift, eV</text>
<text class="ax" style="font-size:70.5px" x="375.8" y="2114.4">Annealing temperature, <tspan style="font-size:45px" dy="-22">0</tspan><tspan dy="22">C</tspan></text>
</g>
</g>
</svg></body></html>
